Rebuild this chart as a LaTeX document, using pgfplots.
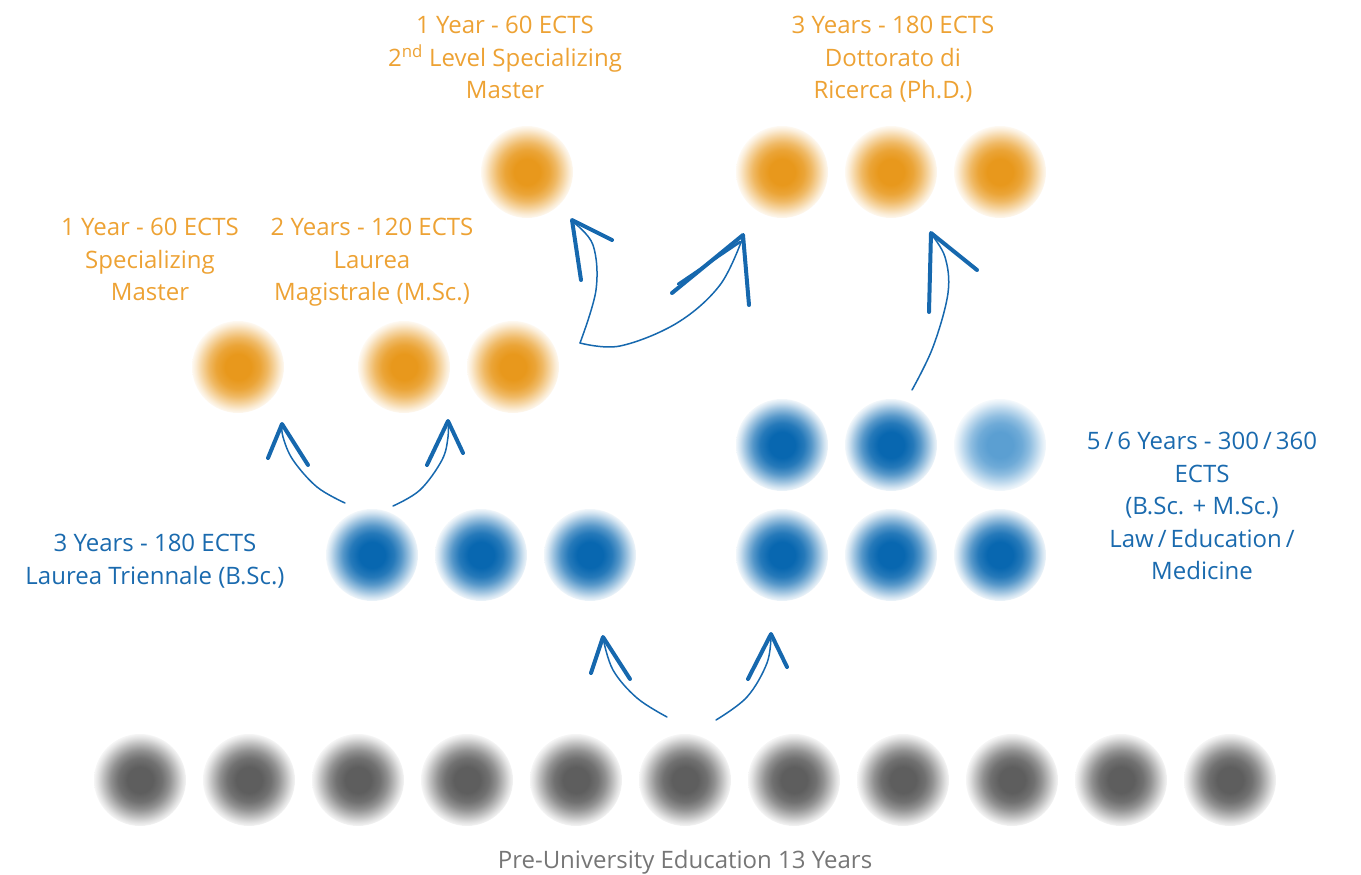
\documentclass[border=0pt]{standalone}
\usepackage{pgfplots}
\pgfplotsset{compat=1.18}
\usepackage{fontspec}
\setmainfont{Open Sans}
\definecolor{orng}{HTML}{E8981C}
\definecolor{orngtxt}{HTML}{EDA234}
\definecolor{blu}{HTML}{0867B0}
\definecolor{lblu}{HTML}{5B9FD2}
\definecolor{bluetxt}{HTML}{1A6AAE}
\definecolor{gry}{HTML}{5E5E5E}
\definecolor{grytxt}{HTML}{767676}
\definecolor{arr}{HTML}{1668AE}
\newcommand\ballshade[2]{\pgfdeclareradialshading{#1}{\pgfpointorigin}{color(0bp)=(#2); color(7bp)=(#2); color(12bp)=(#2!88!white); color(16bp)=(#2!68!white); color(20bp)=(#2!40!white); color(23bp)=(#2!18!white); color(25bp)=(#2!6!white); color(50bp)=(white)}}
\ballshade{ballorange}{orng}
\ballshade{ballblue}{blu}
\ballshade{balllblue}{lblu}
\ballshade{ballgray}{gry}
\tikzset{txt/.style={align=center, font=\fontsize{24}{32.5}\selectfont, anchor=north}}
\pgfplotsset{
  ball/.style={draw=none, mark=none, nodes near coords={},
    every node near coord/.style={circle, minimum size=92pt, inner sep=0pt, anchor=center, shading=#1}},
  arrowline/.style={arr, line width=1.5pt, smooth, tension=0.6, line cap=round},
  arrowhead/.style={arr, line width=4pt, line cap=round, line join=round}
}
\begin{document}
\begin{tikzpicture}
\useasboundingbox (0,0) rectangle (1361pt,875pt);
\begin{axis}[
  scale only axis, width=1361pt, height=875pt,
  xmin=0, xmax=1361, ymin=0, ymax=875, y dir=reverse,
  axis lines=none, ticks=none, clip=false
]
% gray row
\addplot[ball=ballgray] coordinates {(140,780) (249,780) (358,780) (467,780) (576,780) (685,780) (794,780) (903,780) (1012,780) (1121,780) (1230,780)};
% blue B.Sc.
\addplot[ball=ballblue] coordinates {(372,555) (481,555) (590,555)};
% blue right
\addplot[ball=ballblue] coordinates {(782,555) (891,555) (1000,555) (782,445) (891,445)};
\addplot[ball=balllblue] coordinates {(1000,445)};
% orange
\addplot[ball=ballorange] coordinates {(238,367) (404,367) (513,367) (527,172) (782,172) (891,172) (1000,172)};
% arrows
\addplot[arrowline] coordinates {(580,343) (596,290) (593,245) (573,222)};
\addplot[arrowhead] coordinates {(581,280) (572,220) (612,240)};
\addplot[arrowline] coordinates {(580,343) (620,346) (677,323) (720,285) (743,237)};
\addplot[arrowhead] coordinates {(672,293) (743,235) (749,305)};
\addplot[arr, line width=2.5pt, line cap=round] coordinates {(678,284) (740,242)};
\addplot[arrowline] coordinates {(345,503) (317,487) (293,460) (283,437) (282,425)};
\addplot[arrowhead] coordinates {(268,458) (282,424) (308,465)};
\addplot[arrowline] coordinates {(393,506) (420,490) (442,460) (448,437) (448,422)};
\addplot[arrowhead] coordinates {(427,465) (448,421) (463,453)};
\addplot[arrowline] coordinates {(667,717) (637,698) (613,670) (603,638)};
\addplot[arrowhead] coordinates {(591,673) (603,637) (630,679)};
\addplot[arrowline] coordinates {(716,720) (747,697) (767,663) (771,635)};
\addplot[arrowhead] coordinates {(748,679) (771,634) (787,667)};
\addplot[arrowline] coordinates {(912,390) (933,347) (948,293) (945,257) (931,234)};
\addplot[arrowhead] coordinates {(929,312) (931,233) (977,270)};
% texts
\node[txt, text=orngtxt] at (axis cs:505,13) {1 Year - 60 ECTS\\2\textsuperscript{nd} Level Specializing\\Master};
\node[txt, text=orngtxt] at (axis cs:893,13) {3 Years - 180 ECTS\\Dottorato di\\Ricerca (Ph.D.)};
\node[txt, text=orngtxt] at (axis cs:150,215) {1 Year - 60 ECTS\\Specializing\\Master};
\node[txt, text=orngtxt] at (axis cs:372,215) {2 Years - 120 ECTS\\Laurea\\Magistrale (M.Sc.)};
\node[txt, text=bluetxt] at (axis cs:155,531) {3 Years - 180 ECTS\\Laurea Triennale (B.Sc.)};
\node[txt, text=bluetxt] at (axis cs:1202,429) {5\,/\,6 Years - 300\,/\,360\\ECTS\\(B.Sc. + M.Sc.)\\Law\,/\,Education\,/\\Medicine};
\node[txt, text=grytxt] at (axis cs:685,847) {Pre-University Education 13 Years};
\end{axis}
\end{tikzpicture}
\end{document}
